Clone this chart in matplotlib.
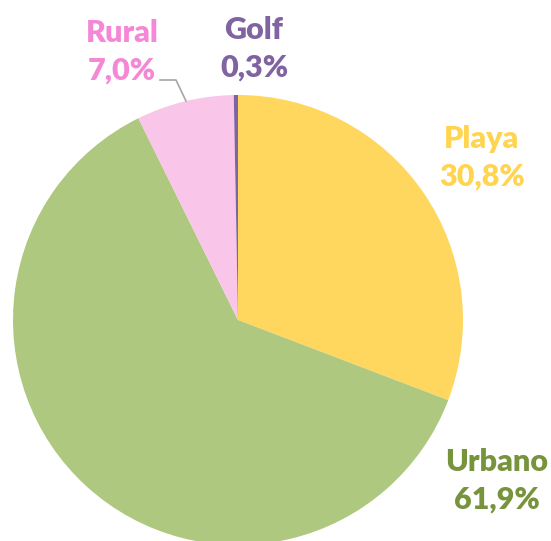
import matplotlib
matplotlib.use("Agg")
import matplotlib.pyplot as plt

# Data
categories = ["Playa", "Urbano", "Rural", "Golf"]
values = [30.8, 61.9, 7.0, 0.3]
fill_colors = ["#FFD75E", "#AFC87F", "#F9C6E9", "#8064A2"]
label_colors = ["#FFD54F", "#77933C", "#F588D6", "#8064A2"]

W, H = 551, 541
fig = plt.figure(figsize=(W / 100, H / 100), dpi=100)
ax = fig.add_axes([0, 0, 1, 1])

# Pie in pixel coordinates (y measured from bottom)
cx, cy, r = 238, H - 320, 225
ax.pie(
    values,
    colors=fill_colors,
    startangle=90,
    counterclock=False,
    center=(cx, cy),
    radius=r,
    wedgeprops=dict(linewidth=0),
)

ax.set_xlim(0, W)
ax.set_ylim(0, H)
ax.set_aspect("equal")
ax.axis("off")

# Labels (pixel positions from top-left)
label_pos = [(482, 158), (497, 481), (122, 52), (254, 49)]
for name, val, col, (px, py) in zip(categories, values, label_colors, label_pos):
    txt = f"{name}\n{val:.1f}%".replace(".", ",")
    ax.text(px, H - py, txt, ha="center", va="center", color=col,
            fontsize=22, fontweight="heavy", family="Lato", linespacing=1.4)

# Leader line for Rural
ax.plot([160, 176, 186], [H - 80, H - 80, H - 101], color="#A6A6A6", lw=1.2)

fig.savefig("out.png", dpi=100)
